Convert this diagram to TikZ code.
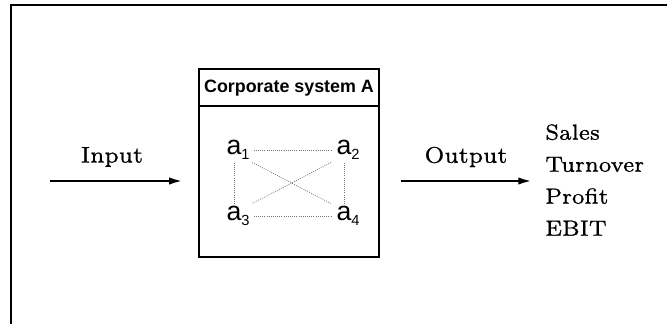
\documentclass[tikz,border=0pt]{standalone}
\usepackage{fontspec}
\newfontfamily\helv{Liberation Sans}
\newfontfamily\smallrm[FakeBold=0.8]{lmroman7-regular.otf}
\usetikzlibrary{arrows.meta}

\newcommand{\sub}[1]{\raisebox{-0.35ex}{\fontsize{11}{12}\selectfont #1}}

\tikzset{
  flow/.style={line width=1.6pt,-{Latex[length=10pt,width=5.5pt]}},
  link/.style={black!55,densely dotted,line width=0.6pt},
  elem/.style={font=\helv\fontsize{20}{24}\selectfont,inner sep=1pt},
  lab/.style={font=\smallrm\fontsize{17}{22}\selectfont}
}

\begin{document}
\begin{tikzpicture}[x=0.75pt,y=-0.75pt]
\useasboundingbox (0,0) rectangle (667,324);
% frame
\draw[line width=1pt] (11,324) -- (11,5) -- (667,5);

% corporate system
\node[draw,line width=0.8pt,minimum width=135pt,minimum height=141pt,inner sep=0pt] (sys) at (289,163) {};
\node[font=\helv\bfseries\fontsize{13.4}{16}\selectfont] (head) at (289,88) {Corporate system A};
\coordinate (hl) at (289,106);
\draw[line width=0.8pt] (sys.west |- hl) -- (sys.east |- hl);

\node[elem] (a1) at (238,150) {a\sub{1}};
\node[elem] (a2) at (348,150) {a\sub{2}};
\node[elem] (a3) at (238,216) {a\sub{3}};
\node[elem] (a4) at (348,216) {a\sub{4}};

\draw[link] ([xshift=2pt]a1.east) -- ([xshift=-2pt]a2.west);
\draw[link] ([xshift=2pt]a3.east) -- ([xshift=-2pt]a4.west);
\draw[link] ([xshift=-3pt,yshift=-1pt]a1.south) -- ([xshift=-3pt,yshift=1pt]a3.north);
\draw[link] ([xshift=-3pt,yshift=-1pt]a2.south) -- ([xshift=-3pt,yshift=1pt]a4.north);
\draw[link] ([xshift=1pt,yshift=-1pt]a1.south east) -- ([xshift=-3pt,yshift=1pt]a4.north west);
\draw[link] ([xshift=-3pt,yshift=-1pt]a2.south west) -- ([xshift=1pt,yshift=1pt]a3.north east);

% input / output
\coordinate (in0) at (50,181);
\node[lab] (inlab) at (112,157) {Input};
\draw[flow,shorten >=12pt] (in0) -- (in0 -| sys.west);

\node[lab,font=\smallrm\fontsize{16.5}{24}\selectfont,anchor=west,align=left,inner sep=0pt] (res) at (545,180)
  {Sales\\Turnover\\Profit\\EBIT};
\node[lab] (outlab) at (466,157) {Output};
\draw[flow,shorten <=16pt,shorten >=10pt] (sys.east |- in0) -- (res.west |- in0);
\end{tikzpicture}
\end{document}
